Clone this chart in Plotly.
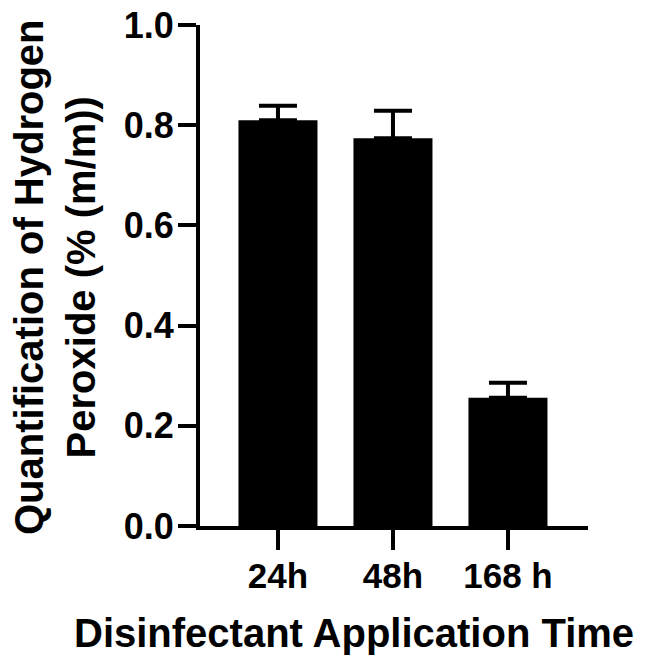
import plotly.graph_objects as go

times = ['24h', '48h', '168 h']
h2o2_mean = [0.81, 0.774, 0.256]
h2o2_sd = [0.029, 0.055, 0.030]
y_ticks = [0.0, 0.2, 0.4, 0.6, 0.8, 1.0]

_FONT = 'Liberation Sans, Arial, Helvetica, sans-serif'
_INK = '#000000'

W, H = 645, 668
OFF = 8  # page body margin
L, R, T, B = 192, 65, 17, 150


def _px(x, y):
    # page pixel -> paper coords
    px = (x - OFF - L) / (W - L - R)
    py = (H - B - (y - OFF)) / (H - T - B)
    return px, py


fig = go.Figure()
fig.add_trace(go.Bar(
    x=list(range(len(times))),
    y=h2o2_mean,
    width=0.687,
    marker=dict(color=_INK, line=dict(width=0)),
    error_y=dict(
        type='data', symmetric=False,
        array=h2o2_sd, arrayminus=[0] * len(h2o2_sd),
        color=_INK, thickness=4, width=19,
    ),
    showlegend=False,
))

xt_x, xt_y = _px(354, 633)
yt_x, yt_y = _px(55, 277)

fig.update_layout(
    width=W, height=H,
    margin=dict(l=L, r=R, t=T, b=B, autoexpand=False),
    paper_bgcolor='white', plot_bgcolor='white',
    font=dict(family=_FONT, color=_INK, size=35, weight='bold'),
    xaxis=dict(
        range=[-0.678, 2.696],
        tickvals=list(range(len(times))), ticktext=times,
        showline=True, linecolor=_INK, linewidth=4,
        ticks='outside', ticklen=20, tickwidth=4, tickcolor=_INK,
        showgrid=False, zeroline=False,
        tickfont=dict(size=35, weight='bold'),
        ticklabelstandoff=-4,
    ),
    yaxis=dict(
        range=[0, 1.0],
        tickvals=y_ticks, ticktext=[f'{v:.1f}' for v in y_ticks],
        showline=True, linecolor=_INK, linewidth=4,
        ticks='outside', ticklen=18, tickwidth=4, tickcolor=_INK,
        showgrid=False, zeroline=False,
        tickfont=dict(size=36, weight='bold'),
        ticklabeloverflow='allow',
        ticklabelstandoff=-3,
    ),
    annotations=[
        dict(
            text='Disinfectant Application Time',
            xref='paper', yref='paper', x=xt_x, y=xt_y,
            xanchor='center', yanchor='middle', showarrow=False,
            font=dict(size=40, weight='bold'),
        ),
        dict(
            text='Quantification of Hydrogen<br>Peroxide (% (m/m))',
            xref='paper', yref='paper', x=yt_x, y=yt_y,
            xanchor='center', yanchor='middle', showarrow=False,
            textangle=-90,
            font=dict(size=40, weight='bold'),
        ),
    ],
)

fig.write_html('out.html')
